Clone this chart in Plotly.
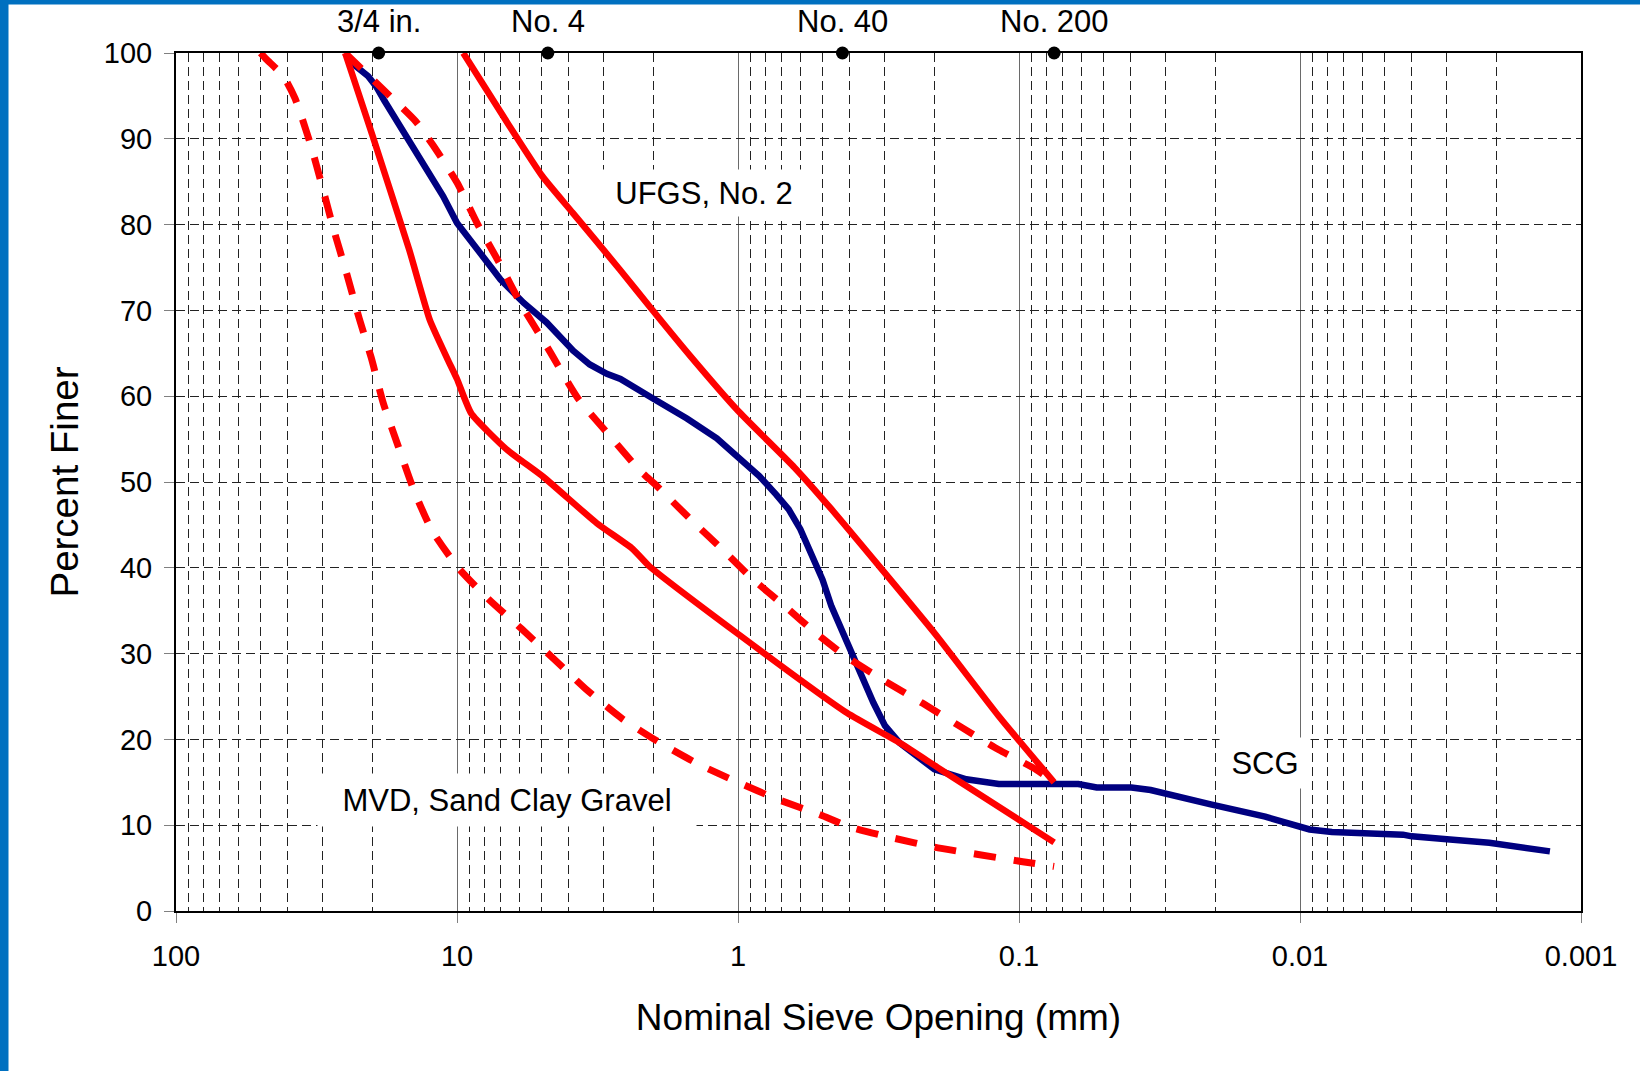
import numpy as np
import plotly.graph_objects as go

# ---------------- data ----------------
scg_size = [25, 23.2, 20.7, 19.4, 18.1, 17.2, 14.8, 12.5, 11.2, 10.0, 8.5, 7.0, 5.8, 4.8,
            3.86, 3.37, 2.93, 2.62, 2.0, 1.52, 1.19, 1.0, 0.84, 0.73, 0.66, 0.60, 0.555,
            0.50, 0.465, 0.425, 0.386, 0.36, 0.33, 0.30, 0.266, 0.20, 0.154, 0.118, 0.105,
            0.0615, 0.0529, 0.0398, 0.0340, 0.0279, 0.0206, 0.0133, 0.0107, 0.00924,
            0.0077, 0.0058, 0.0043, 0.0040, 0.0033, 0.0030, 0.00212, 0.00164, 0.00129]
scg_pct = [100, 98.6, 97.3, 96.1, 94.4, 93.2, 89.5, 85.6, 83.3, 80.2, 77.1, 73.6, 70.9, 68.6,
           65.3, 63.7, 62.6, 62.0, 59.7, 57.4, 55.1, 52.9, 50.7, 48.5, 46.8, 44.5, 41.8,
           38.6, 35.5, 32.45, 29.5, 27.0, 24.3, 21.6, 19.6, 16.5, 15.35, 14.8, 14.8,
           14.8, 14.4, 14.4, 14.1, 13.4, 12.4, 11.0, 10.1, 9.5,
           9.2, 9.1, 8.9, 8.7, 8.55, 8.35, 7.95, 7.35, 6.95]

ufgs_upper_size = [9.5, 6.51, 4.96, 3.88, 2.64, 2.0, 1.48, 1.0, 0.63, 0.47, 0.2, 0.118, 0.075]
ufgs_upper_pct = [100, 91.5, 85.6, 81.4, 74.8, 69.9, 64.7, 58.3, 51.7, 47.0, 32.4, 22.7, 15.0]

ufgs_lower_size = [25, 19.95, 14.8, 12.5, 10.8, 10, 8.9, 6.66, 4.93, 3.18, 2.37, 2.07, 1.01,
                   0.41, 0.266, 0.19, 0.075]
ufgs_lower_pct = [100, 90.3, 77.1, 68.9, 64.3, 62.0, 58.0, 53.8, 50.6, 45.2, 42.2, 40.2, 32.4,
                  23.1, 19.6, 16.5, 8.0]

mvd_upper_size = [25, 18.4, 14.0, 12.2, 10.0, 8.43, 7.03, 5.96, 4.75, 3.72, 2.88, 2.23, 1.94,
                  1.48, 1.15, 0.88, 0.68, 0.52, 0.41, 0.30, 0.22, 0.16, 0.118, 0.087, 0.075]
mvd_upper_pct = [100, 95.8, 92.0, 89.3, 84.9, 80.0, 75.4, 70.9, 65.6, 59.8, 55.5, 51.3, 49.5,
                 45.7, 42.3, 38.6, 35.5, 32.2, 29.6, 26.8, 24.2, 21.4, 18.8, 16.5, 15.0]

mvd_lower_size = [50, 47.8, 41.5, 37.7, 33.1, 30.1, 27.4, 24.7, 22.3, 20.2, 18.3, 16.2, 14.3,
                  12.3, 9.84, 7.7, 5.9, 4.53, 3.46, 2.58, 1.94, 1.38, 1.0, 0.72, 0.50, 0.40,
                  0.28, 0.20, 0.097, 0.075]
mvd_lower_pct = [100, 99.3, 97.3, 94.7, 89.2, 84.3, 79.3, 74.3, 69.1, 64.5, 59.2, 54.2, 49.2,
                 44.4, 39.9, 36.3, 32.9, 29.4, 25.8, 22.4, 19.8, 17.1, 15.0, 13.0, 11.1, 9.8,
                 8.5, 7.45, 5.75, 5.2]

sieve_sizes = [19.0, 4.75, 0.425, 0.075]
sieve_labels = ["3/4 in.", "No. 4", "No. 40", "No. 200"]

x_tick_vals = [100, 10, 1, 0.1, 0.01, 0.001]
x_tick_text = ["100", "10", "1", "0.1", "0.01", "0.001"]

# ---------------- figure ----------------
FONT = "Liberation Sans, Arial, sans-serif"
RED = "#FF0000"
NAVY = "#000080"
DASH = "22px,18px"

fig = go.Figure()

fig.add_trace(go.Scatter(x=scg_size, y=scg_pct, mode="lines", name="SCG",
                         line=dict(color=NAVY, width=6.5)))
fig.add_trace(go.Scatter(x=ufgs_upper_size, y=ufgs_upper_pct, mode="lines",
                         name="UFGS, No. 2 (upper)",
                         line=dict(color=RED, width=6.5, shape="spline", smoothing=0.5)))
fig.add_trace(go.Scatter(x=ufgs_lower_size, y=ufgs_lower_pct, mode="lines",
                         name="UFGS, No. 2 (lower)",
                         line=dict(color=RED, width=6.5, shape="spline", smoothing=0.5)))
fig.add_trace(go.Scatter(x=mvd_upper_size, y=mvd_upper_pct, mode="lines",
                         name="MVD (upper)",
                         line=dict(color=RED, width=7, dash=DASH, shape="spline",
                                   smoothing=0.6)))
fig.add_trace(go.Scatter(x=mvd_lower_size, y=mvd_lower_pct, mode="lines",
                         name="MVD (lower)",
                         line=dict(color=RED, width=7, dash=DASH, shape="spline",
                                   smoothing=0.6)))

# sieve markers on the top axis
fig.add_trace(go.Scatter(x=sieve_sizes, y=[100] * len(sieve_sizes), mode="markers",
                         marker=dict(color="black", size=13), cliponaxis=False,
                         showlegend=False, hoverinfo="skip"))

annotations = []
for s, lab in zip(sieve_sizes, sieve_labels):
    annotations.append(dict(x=np.log10(s), y=100, xref="x", yref="y", text=lab,
                            showarrow=False, yanchor="bottom", yshift=12,
                            font=dict(family=FONT, size=31, color="black")))

# (text, x position, y position, box width, box height)
for txt, xv, yv, bw, bh in [("UFGS, No. 2", 10 ** 0.12, 83.7, 200, 36),
                            ("SCG", 10 ** -1.875, 17.3, 80, 40),
                            ("MVD, Sand Clay Gravel", 10 ** 0.822, 12.9, 368, 42)]:
    annotations.append(dict(x=np.log10(xv), y=yv, xref="x", yref="y", text=txt,
                            showarrow=False, bgcolor="white", borderpad=5,
                            width=bw, height=bh,
                            font=dict(family=FONT, size=31, color="black")))

minor_vals = [k * d for d in [0.001, 0.01, 0.1, 1, 10] for k in range(2, 10)]

# blue frame bands (left and top edges of the slide)
L, R, T, B = 176, 59, 53, 160
W, H = 1640, 1071
pw, ph = W - L - R, H - T - B
shapes = [
    dict(type="rect", xref="paper", yref="paper", layer="below",
         x0=-L / pw, x1=(8.5 - L) / pw, y0=-B / ph, y1=(H - B) / ph,
         fillcolor="#0070C0", line=dict(width=0)),
    dict(type="rect", xref="paper", yref="paper", layer="below",
         x0=-L / pw, x1=(W - L) / pw, y0=(H - B - 4.5) / ph, y1=(H - B) / ph,
         fillcolor="#0070C0", line=dict(width=0)),
]

GRID = "#222222"
GRIDDASH = "9px,5px"

fig.update_layout(
    width=W, height=H,
    margin=dict(l=L, r=R, t=T, b=B, autoexpand=False),
    paper_bgcolor="white", plot_bgcolor="white",
    showlegend=False,
    font=dict(family=FONT, color="black"),
    annotations=annotations,
    shapes=shapes,
    xaxis=dict(
        type="log", range=[2, -3],
        tickmode="array", tickvals=x_tick_vals, ticktext=x_tick_text,
        showgrid=True, gridcolor="#6a6a6a", gridwidth=1,
        minor=dict(tickmode="array", tickvals=minor_vals, showgrid=True,
                   gridcolor=GRID, gridwidth=1, griddash=GRIDDASH, ticks=""),
        ticks="outside", ticklen=10, tickcolor="#808080", tickwidth=1,
        showline=True, mirror=True, linecolor="black", linewidth=2,
        zeroline=False, automargin=False,
        tickfont=dict(family=FONT, size=29, color="black"),
        ticklabelstandoff=8,
        title=dict(text="Nominal Sieve Opening (mm)", standoff=33,
                   font=dict(family=FONT, size=37, color="black")),
    ),
    yaxis=dict(
        range=[0, 100], tickmode="linear", tick0=0, dtick=10,
        showgrid=True, gridcolor=GRID, gridwidth=1, griddash=GRIDDASH,
        ticks="outside", ticklen=10, tickcolor="#808080", tickwidth=1,
        showline=True, mirror=True, linecolor="black", linewidth=2,
        zeroline=False, automargin=False,
        tickfont=dict(family=FONT, size=29, color="black"),
        ticklabelstandoff=6,
        title=dict(text="Percent Finer", standoff=13,
                   font=dict(family=FONT, size=38.5, color="black")),
    ),
)

fig.write_html("out.html",
               config={"displayModeBar": False},
               post_script="document.body.style.margin='0px';"
                           "document.body.style.overflow='hidden';")
